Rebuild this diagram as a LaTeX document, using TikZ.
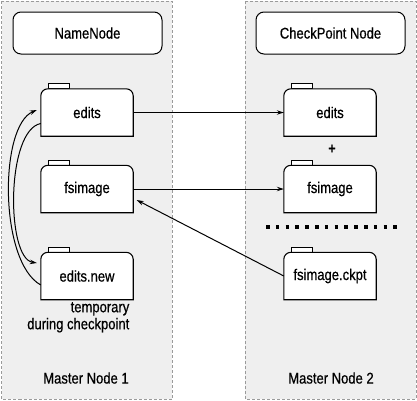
\documentclass[tikz,border=0pt]{standalone}
\usepackage{fontspec}
\setmainfont{Liberation Sans}[FakeStretch=0.84,FakeBold=0.6]
\usetikzlibrary{arrows.meta,calc}
\definecolor{panelgray}{HTML}{EFEFEF}
\definecolor{bordergray}{HTML}{9A9A9A}
\tikzset{
  panel/.style={draw=bordergray, fill=panelgray, dash pattern=on 3pt off 2pt, line width=0.8pt},
  titlebox/.style={draw=black, fill=white, rounded corners=8pt, line width=1pt, minimum width=149pt, minimum height=42pt, font=\fontsize{15.5}{17}\selectfont},
  fbox/.style={draw=none, minimum width=92pt, minimum height=47pt, inner sep=0pt},
  ftext/.style={font=\fontsize{15.5}{17}\selectfont},
  arr/.style={-{Stealth[length=7pt,width=4.5pt]}, line width=1pt},
  lbl/.style={font=\fontsize{15.5}{17}\selectfont, inner sep=0pt},
}
\newcommand\folderbox[3]{%
  \node[fbox] (#1) at (#2) {};
  \draw[fill=white, line width=1pt] ([xshift=8pt]#1.north west) rectangle ([xshift=29pt,yshift=5pt]#1.north west);
  \draw[fill=white, line width=1.1pt] (#1.south west) -- ([yshift=-7pt]#1.north west) arc[start angle=180,end angle=90,radius=7pt] -- ([xshift=-7pt]#1.north east) arc[start angle=90,end angle=0,radius=7pt] -- (#1.south east) -- cycle;
  \node[ftext] at (#1) {#3};
}
\begin{document}
\begin{tikzpicture}[x=1pt,y=-1pt]
\useasboundingbox (0,0) rectangle (417,400);
% panels
\path[panel] (1.5,1) rectangle (172,399);
\path[panel] (245,1) rectangle (416,399);
% title boxes
\node[titlebox] (nn) at (87.5,33) {NameNode};
\node[titlebox] (cp) at (330.5,33) {CheckPoint Node};
% folders
\folderbox{e1}{87,112.5}{edits}
\folderbox{f1}{87,189}{fsimage}
\folderbox{en}{87,276}{edits.new}
\folderbox{e2}{330,112.5}{edits}
\folderbox{f2}{330,189}{fsimage}
\folderbox{ck}{330,276}{fsimage.ckpt}
% plus and dots
\node[font=\bfseries\fontsize{15}{16}\selectfont] (plus) at (332,149) {+};
\coordinate (d1) at (266,227);
\coordinate (d2) at (400,227);
\draw[line width=3.5pt, dash pattern=on 3.5pt off 6.3pt] (d1) -- (d2);
% labels
\node[lbl, anchor=north east, align=right] (tmp) at (129.5,302) {temporary\\during checkpoint};
\node[lbl] (m1) at (86,378) {Master Node 1};
\node[lbl] (m2) at (331,378) {Master Node 2};
% connectors
\draw[arr] (e1.east) -- (e2.west);
\draw[arr] (f1.east) -- (f2.west);
\draw[arr] (ck.west) -- ([xshift=3.5pt,yshift=-11pt]f1.east);
\draw[arr] ([yshift=-9pt]en.west) .. controls (-1,262) and (-1,126) .. ([xshift=-4pt,yshift=2.5pt]e1.west);
\draw[arr] ([yshift=-11pt]e1.west) .. controls (6,130) and (6,258) .. ([xshift=-4pt,yshift=13pt]en.west);
\end{tikzpicture}
\end{document}
